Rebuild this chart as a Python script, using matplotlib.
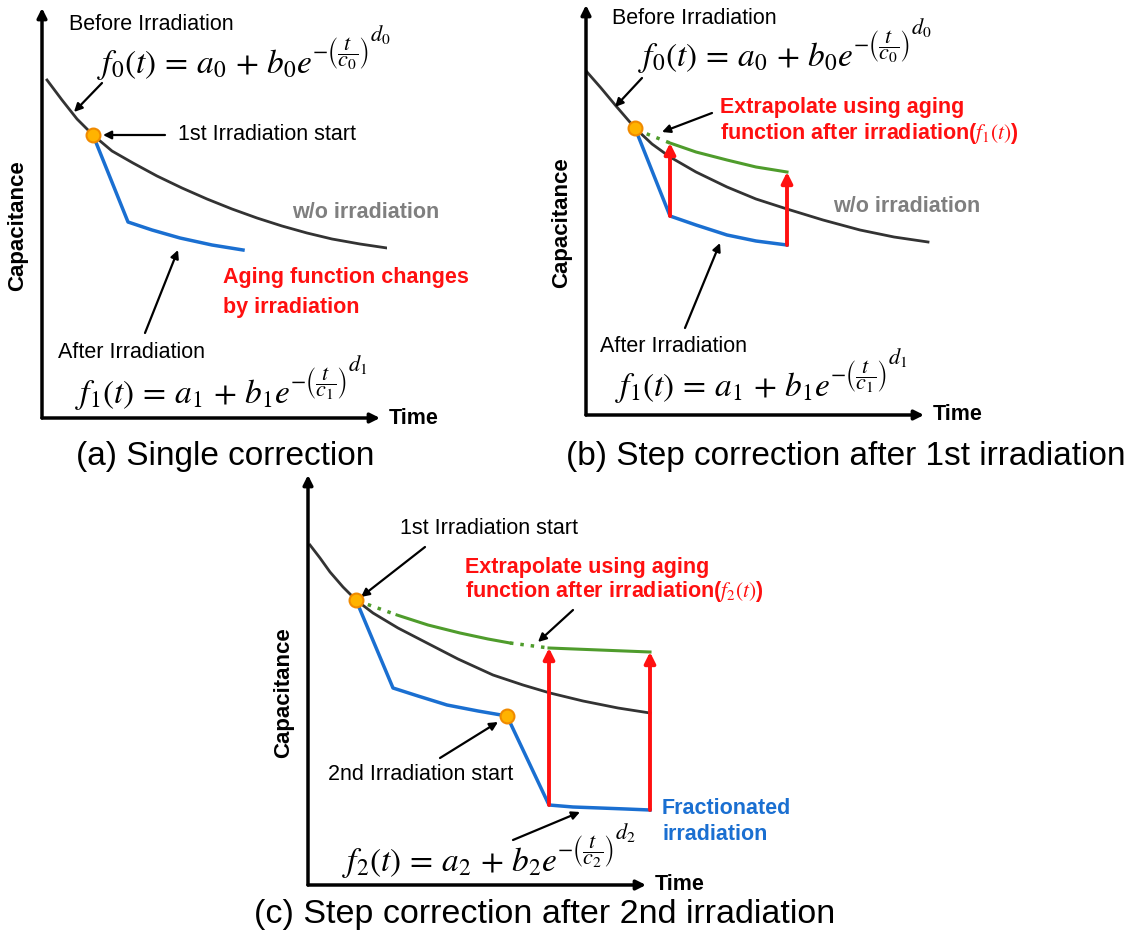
import matplotlib.pyplot as plt

plt.rcParams['font.family'] = ['Liberation Sans', 'DejaVu Sans']
plt.rcParams['mathtext.fontset'] = 'stix'

# colours
BLACK_CURVE = '#333333'
BLUE = '#1a6fd1'
GREEN = '#4f9c2c'
RED = '#ff1010'
DOT_FACE = '#ffb300'
DOT_EDGE = '#f08a00'

# ---- panel (a): single correction (time, capacitance)
a_t_before = [5, 20, 35, 51, 70, 91, 115, 140, 165, 190, 215, 240, 265, 290, 318, 345]
a_c_before = [338, 318, 299, 283, 267, 255, 242, 230, 219, 209, 200, 192, 185, 179, 174, 170]
a_t_after = [51, 86, 110, 138, 170, 201]
a_c_after = [283, 196, 188, 180, 173, 168]
a_start = (51, 283)

# ---- panel (b): step correction after 1st irradiation
b_t_before = [1, 15, 30, 49, 66, 84, 110, 141, 170, 201, 237, 274, 308, 342]
b_c_before = [343, 327, 309, 287, 271, 258, 243, 228, 216, 206, 195, 185, 178, 173]
b_t_after = [49, 84, 110, 141, 170, 201]
b_c_after = [287, 199, 190, 180, 174, 170]
b_t_extra_dot = [51, 84]
b_c_extra_dot = [285, 272]
b_t_extra = [84, 110, 141, 170, 201]
b_c_extra = [272, 263, 255, 248, 243]
b_steps_t = [84, 201]
b_steps_from = [199, 170]
b_steps_to = [272, 243]
b_start = (49, 287)

# ---- panel (c): step correction after 2nd irradiation
c_t_before = [2, 12, 22, 35, 48, 65, 90, 119, 150, 185, 215, 242, 275, 310, 342]
c_c_before = [340, 327, 313, 298, 285, 272, 257, 242, 226, 210, 200, 192, 184, 177, 172]
c_t_after = [48, 85, 110, 139, 170, 199, 241, 265, 292, 318, 342]
c_c_after = [285, 197, 189, 180, 174, 169, 80, 78, 77, 76, 75]
c_t_extra_dot1 = [50, 89]
c_c_extra_dot1 = [284, 270]
c_t_extra1 = [89, 120, 152, 180, 202]
c_c_extra1 = [270, 260, 252, 246, 242]
c_t_extra_dot2 = [202, 241]
c_c_extra_dot2 = [242, 237]
c_t_extra2 = [241, 342]
c_c_extra2 = [237, 233]
c_steps_t = [241, 342]
c_steps_from = [80, 75]
c_steps_to = [237, 233]
c_start1 = (48, 285)
c_start2 = (199, 169)

FW, FH = 1136, 942
W, H = 345, 415

fig = plt.figure(figsize=(FW / 100, FH / 100), dpi=100)


def panel_axes(ox, oy):
    ax = fig.add_axes([ox / FW, (FH - oy) / FH, W / FW, H / FH])
    ax.set_xlim(0, W)
    ax.set_ylim(0, H)
    ax.axis('off')
    # axes drawn as arrows
    ax.annotate('', xy=(338, 0), xytext=(0, 0),
                arrowprops=dict(arrowstyle='-|>', color='black', lw=2.5,
                                mutation_scale=14, shrinkA=0, shrinkB=0))
    ax.annotate('', xy=(0, 410), xytext=(0, 0),
                arrowprops=dict(arrowstyle='-|>', color='black', lw=2.5,
                                mutation_scale=14, shrinkA=0, shrinkB=0))
    ax.text(347, 0, 'Time', fontsize=15.5, fontweight='bold', va='center', ha='left')
    ax.text(-24, 192, 'Capacitance', fontsize=16, fontweight='bold',
            rotation=90, va='center', ha='center')
    return ax


def pointer(ax, xy, xytext, color='black', lw=1.6, ms=12):
    ax.annotate('', xy=xy, xytext=xytext,
                arrowprops=dict(arrowstyle='-|>', color=color, lw=lw,
                                mutation_scale=ms, shrinkA=0, shrinkB=0))


def dot(ax, p):
    ax.plot(p[0], p[1], 'o', ms=10, mfc=DOT_FACE, mec=DOT_EDGE, mew=1.5, zorder=5)


def formula(ax, x, y, k):
    # f_k(t) = a_k + b_k e^{-(t/c_k)^{d_k}}, built from three pieces so the
    # exponent keeps the large size it has in the picture
    main = ax.text(x, y, r'$f_%s(t)\,=\,a_%s\,+\,b_%se$' % (k, k, k),
                   fontsize=24, va='bottom', ha='left')
    expo = ax.annotate(r'$-\left(\dfrac{t}{c_%s}\right)$' % k,
                       xy=(1.0, 0.28), xycoords=main, fontsize=16,
                       va='bottom', ha='left')
    ax.annotate(r'$d_%s$' % k, xy=(1.0, 0.72), xycoords=expo, fontsize=16,
                va='bottom', ha='left')


FS_LAB = 15.5
FS_BOLD = 15.5

# ---------------- (a)
ax = panel_axes(42, 418)
ax.plot(a_t_before, a_c_before, color=BLACK_CURVE, lw=2)
ax.plot(a_t_after, a_c_after, color=BLUE, lw=2.5)
dot(ax, a_start)
ax.text(27, 393, 'Before Irradiation', fontsize=FS_LAB, va='center')
formula(ax, 55, 336, '0')
pointer(ax, (32, 306), (60, 335))
ax.text(136, 283, '1st Irradiation start', fontsize=FS_LAB, va='center')
pointer(ax, (61, 283), (123, 283))
ax.text(250, 205, 'w/o irradiation', fontsize=FS_BOLD, fontweight='bold',
        color='#7f7f7f', va='center')
ax.text(181, 140, 'Aging function changes', fontsize=FS_BOLD, fontweight='bold',
        color=RED, va='center')
ax.text(181, 110, 'by irradiation', fontsize=FS_BOLD, fontweight='bold',
        color=RED, va='center')
ax.text(16, 66, 'After Irradiation', fontsize=FS_LAB, va='center')
pointer(ax, (136, 168), (103, 85))
formula(ax, 33, 6, '1')

# ---------------- (b)
ax = panel_axes(586, 415)
ax.plot(b_t_before, b_c_before, color=BLACK_CURVE, lw=2)
ax.plot(b_t_after, b_c_after, color=BLUE, lw=2.5)
ax.plot(b_t_extra_dot, b_c_extra_dot, color=GREEN, lw=2.5, ls=(0, (1, 2)))
ax.plot(b_t_extra, b_c_extra, color=GREEN, lw=2.2)
for t, c0, c1 in zip(b_steps_t, b_steps_from, b_steps_to):
    pointer(ax, (t, c1), (t, c0), color=RED, lw=2.8, ms=16)
dot(ax, b_start)
ax.text(26, 397, 'Before Irradiation', fontsize=FS_LAB, va='center')
formula(ax, 52, 340, '0')
pointer(ax, (29, 308), (56, 337))
ax.text(134, 307, 'Extrapolate using aging', fontsize=FS_BOLD, fontweight='bold',
        color=RED, va='center')
ax.text(134, 282, r'function after irradiation($f_1(t)$)', fontsize=FS_BOLD,
        fontweight='bold', color=RED, va='center')
pointer(ax, (76, 283), (126, 302))
ax.text(247, 208, 'w/o irradiation', fontsize=FS_BOLD, fontweight='bold',
        color='#7f7f7f', va='center')
ax.text(14, 68, 'After Irradiation', fontsize=FS_LAB, va='center')
pointer(ax, (134, 172), (99, 87))
formula(ax, 29, 10, '1')

# ---------------- (c)
ax = panel_axes(308, 885)
ax.plot(c_t_before, c_c_before, color=BLACK_CURVE, lw=2)
ax.plot(c_t_after, c_c_after, color=BLUE, lw=2.5)
ax.plot(c_t_extra_dot1, c_c_extra_dot1, color=GREEN, lw=2.5, ls=(0, (1, 2)))
ax.plot(c_t_extra1, c_c_extra1, color=GREEN, lw=2.2)
ax.plot(c_t_extra_dot2, c_c_extra_dot2, color=GREEN, lw=2.5, ls=(0, (1, 2)))
ax.plot(c_t_extra2, c_c_extra2, color=GREEN, lw=2.2)
for t, c0, c1 in zip(c_steps_t, c_steps_from, c_steps_to):
    pointer(ax, (t, c1), (t, c0), color=RED, lw=2.8, ms=16)
dot(ax, c_start1)
dot(ax, c_start2)
ax.text(92, 357, '1st Irradiation start', fontsize=FS_LAB, va='center')
pointer(ax, (53, 288), (117, 338))
ax.text(157, 318, 'Extrapolate using aging', fontsize=FS_BOLD, fontweight='bold',
        color=RED, va='center')
ax.text(157, 293, r'function after irradiation($f_2(t)$)', fontsize=FS_BOLD,
        fontweight='bold', color=RED, va='center')
pointer(ax, (230, 243), (265, 275))
ax.text(20, 110, '2nd Irradiation start', fontsize=FS_LAB, va='center')
pointer(ax, (190, 163), (132, 127))
ax.text(354, 77, 'Fractionated', fontsize=FS_BOLD, fontweight='bold',
        color=BLUE, va='center')
ax.text(354, 50, 'irradiation', fontsize=FS_BOLD, fontweight='bold',
        color=BLUE, va='center')
pointer(ax, (272, 73), (205, 45))
formula(ax, 34, 5, '2')

# ---------------- captions
fig.text(225 / FW, 1 - 457 / FH, '(a) Single correction', fontsize=24,
         ha='center', va='center')
fig.text(846 / FW, 1 - 457 / FH, '(b) Step correction after 1st irradiation',
         fontsize=24, ha='center', va='center')
fig.text(545 / FW, 1 - 915 / FH, '(c) Step correction after 2nd irradiation',
         fontsize=24.5, ha='center', va='center')

fig.savefig('out.png', dpi=100, facecolor='white')
